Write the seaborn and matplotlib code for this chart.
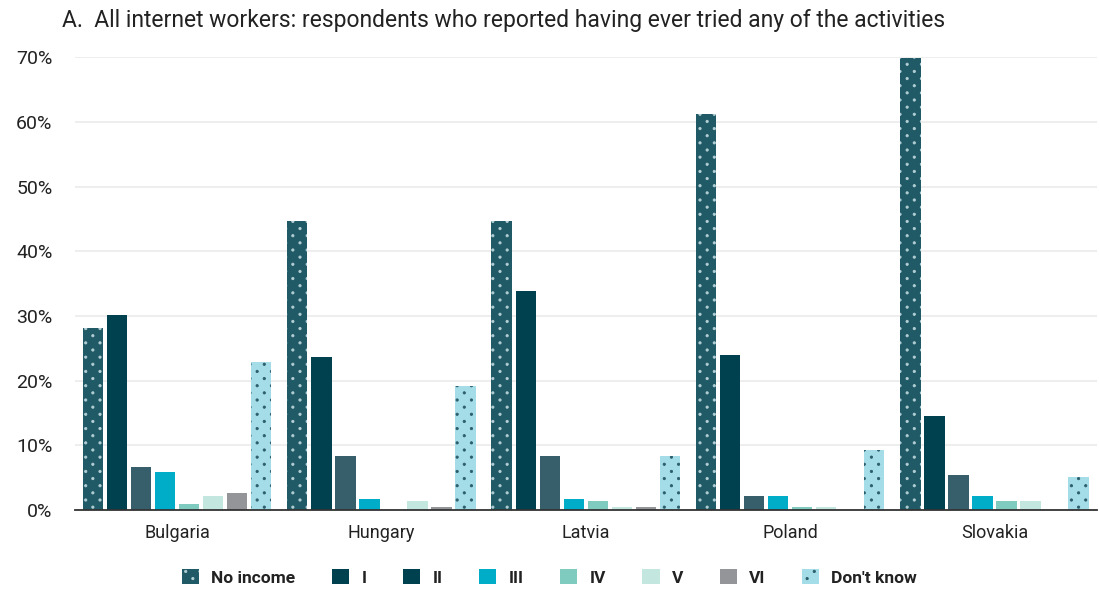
import matplotlib
matplotlib.use("Agg")
import matplotlib.pyplot as plt
import matplotlib.hatch as mhatch
from matplotlib.path import Path
import seaborn as sns
import pandas as pd
import numpy as np
from matplotlib.patches import Patch
from matplotlib.ticker import FixedLocator, PercentFormatter

countries = ["Bulgaria", "Hungary", "Latvia", "Poland", "Slovakia"]
levels = ["No income", "I", "II", "III", "IV", "V", "VI", "Don't know"]
no_income = [28.1, 44.7, 44.7, 61.2, 69.9]
inc_i = [30.1, 23.6, 33.8, 24.0, 14.5]
inc_ii = [6.6, 8.3, 8.3, 2.2, 5.4]
inc_iii = [5.9, 1.7, 1.7, 2.2, 2.2]
inc_iv = [0.9, 0.0, 1.4, 0.5, 1.4]
inc_v = [2.2, 1.4, 0.5, 0.5, 1.4]
inc_vi = [2.6, 0.5, 0.5, 0.0, 0.0]
dont_know = [22.9, 19.2, 8.3, 9.3, 5.1]

series = [no_income, inc_i, inc_ii, inc_iii, inc_iv, inc_v, inc_vi, dont_know]
colors = ["#1f5a66", "#00414f", "#365e6b", "#00adc8", "#7fcbc0", "#c3e6df", "#939598", "#a4dce8"]
# the reference legend shows the "II" swatch in the same dark tone as "I"
legend_colors = ["#1f5a66", "#00414f", "#00414f", "#00adc8", "#7fcbc0", "#c3e6df", "#939598", "#a4dce8"]
hatched = {"No income": "#b4cfd5", "Don't know": "#2c5d6b"}


# staggered dot pattern (diamond lattice) used as hatch for '.'
class StaggeredDots(mhatch.HatchPatternBase):
    rows = 14
    cols = 7
    radius = 0.0115

    def __init__(self, hatch, density):
        circ = Path.unit_circle()
        self.cv = circ.vertices
        self.cc = circ.codes
        self.centers = []
        if "." in hatch:
            for r in range(self.rows + 1):
                y = r / self.rows
                if r % 2 == 0:
                    xs = np.linspace(0, 1, self.cols + 1)
                else:
                    xs = np.linspace(0.5 / self.cols, 1 - 0.5 / self.cols, self.cols)
                for x in xs:
                    self.centers.append((x, y))
        self.num_vertices = len(self.centers) * len(self.cv)

    def set_vertices_and_codes(self, vertices, codes):
        n = len(self.cv)
        for i, (x, y) in enumerate(self.centers):
            vertices[i * n:(i + 1) * n] = self.cv * self.radius + (x, y)
            codes[i * n:(i + 1) * n] = self.cc


mhatch._hatch_types = [h for h in mhatch._hatch_types
                       if h is not mhatch.SmallFilledCircles] + [StaggeredDots]

rows = []
for lvl, vals in zip(levels, series):
    for c, v in zip(countries, vals):
        rows.append({"country": c, "level": lvl, "value": v})
df = pd.DataFrame(rows)

sns.set_style("white")
plt.rcParams["font.family"] = ["Roboto", "DejaVu Sans"]
plt.rcParams["hatch.linewidth"] = 0.6

fig = plt.figure(figsize=(10.99, 5.89), dpi=100)
ax = fig.add_axes([0.068, 0.134, 0.930, 0.769])

sns.barplot(data=df, x="country", y="value", hue="level", order=countries,
            hue_order=levels, palette=colors, width=0.94, gap=0.15,
            legend=False, ax=ax, saturation=1, linewidth=0)

for lvl, cont in zip(levels, ax.containers):
    if lvl in hatched:
        for p in cont:
            p.set_hatch(".")
            p.set_edgecolor(hatched[lvl])
            p.set_linewidth(0)

ax.set_ylim(0, 70)
ax.set_xlim(-0.5, 4.5)
ax.set_yticks(np.arange(0, 71, 10))
ax.yaxis.set_major_formatter(PercentFormatter(decimals=0))
ax.grid(axis="y", color="#ebebeb", linewidth=1.2)
ax.set_axisbelow(True)
for s in ["top", "right", "left"]:
    ax.spines[s].set_visible(False)
ax.spines["bottom"].set_color("#333333")
ax.spines["bottom"].set_linewidth(1.3)
ax.set_xlabel("")
ax.set_ylabel("")
ax.tick_params(axis="y", length=0, labelsize=14, colors="#222222", pad=16)
ax.tick_params(axis="x", which="major", length=0, labelsize=13, colors="#222222", pad=10)
ax.xaxis.set_minor_locator(FixedLocator(np.arange(-0.5, 5.0, 1.0)))
ax.tick_params(axis="x", which="minor", length=8, width=1.2, color="#333333", direction="out")

fig.text(0.056, 0.965, "A.  All internet workers: respondents who reported having ever tried any of the activities",
         fontsize=16.5, color="#222222", va="center", ha="left")

handles = []
for lvl, col in zip(levels, legend_colors):
    if lvl in hatched:
        handles.append(Patch(facecolor=col, edgecolor=hatched[lvl], hatch=".", linewidth=0))
    else:
        handles.append(Patch(facecolor=col, linewidth=0))
leg = fig.legend(handles, levels, loc="center", bbox_to_anchor=(0.5, 0.02), ncol=8,
                 frameon=False, handlelength=1.0, handleheight=1.0, columnspacing=2.1,
                 handletextpad=0.7, prop={"weight": "bold", "size": 12.5})
for t in leg.get_texts():
    t.set_color("#222222")

fig.savefig("out.png", dpi=100)
